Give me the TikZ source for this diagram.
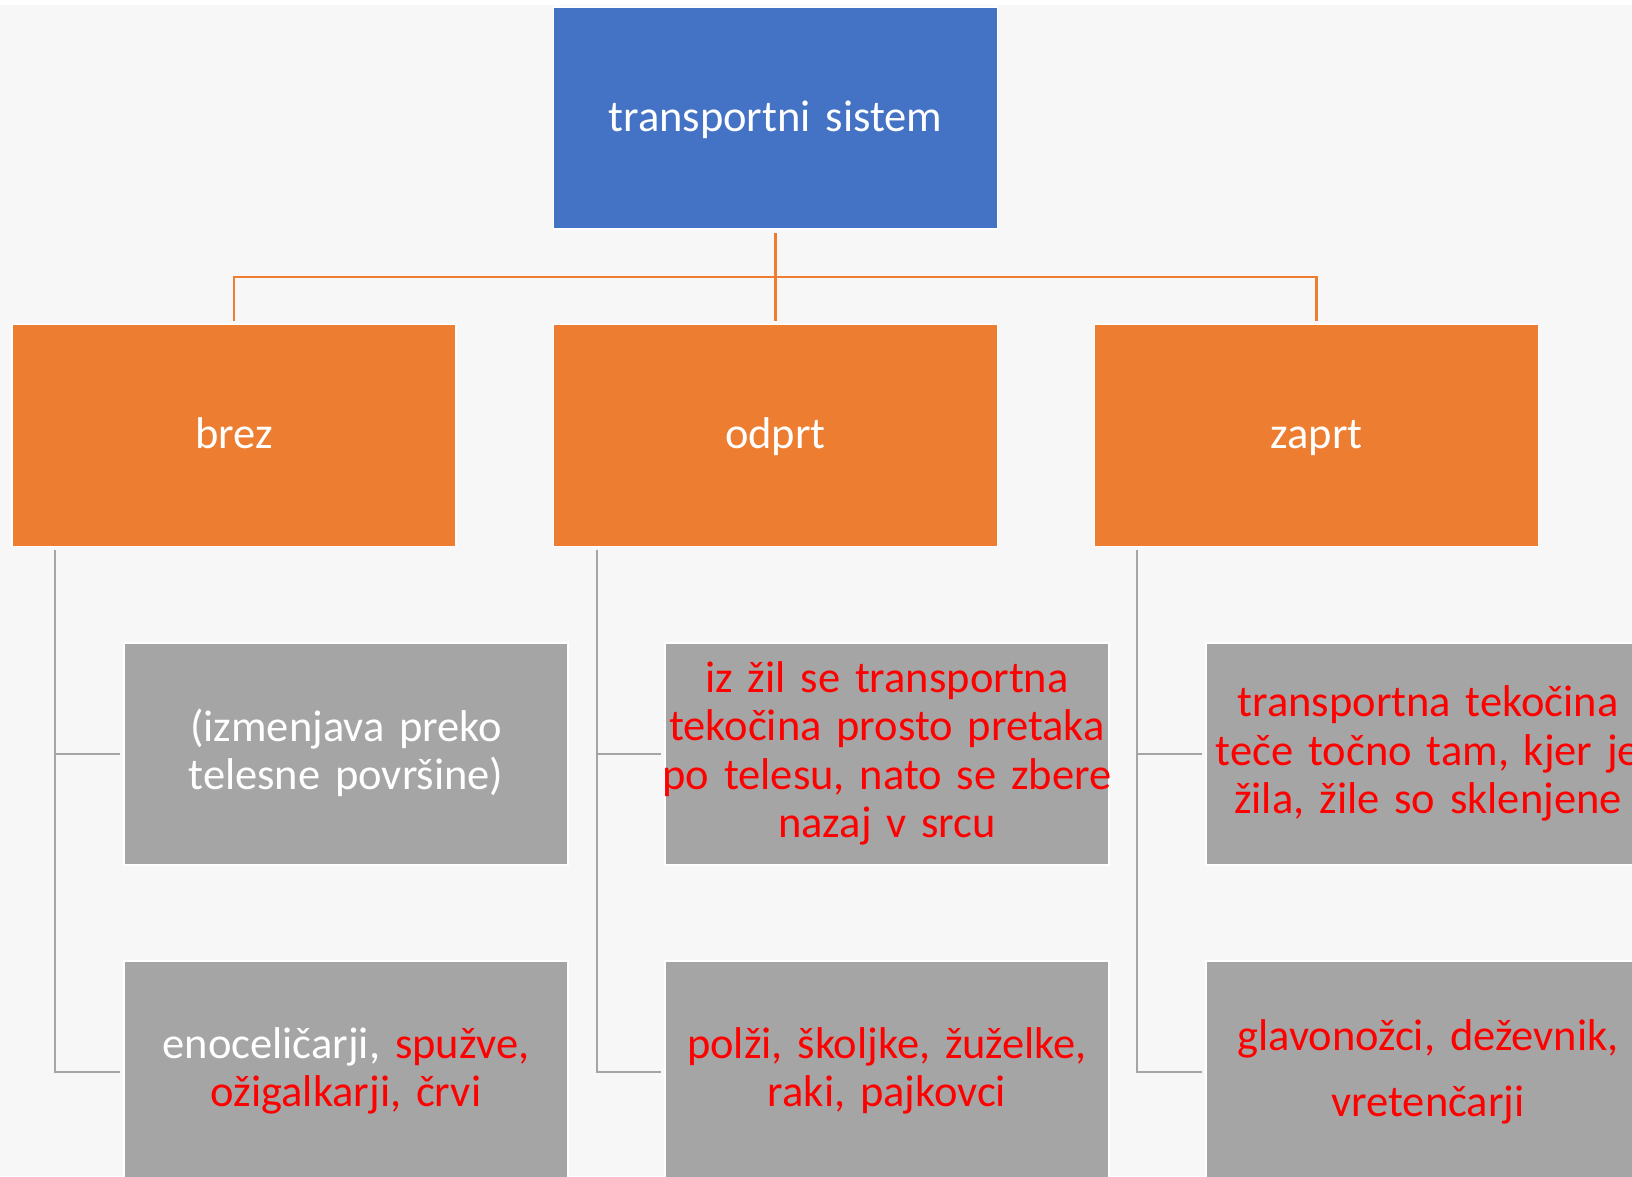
\documentclass[tikz,border=0pt]{standalone}
\usepackage{fontspec}
\setmainfont{Carlito}
\definecolor{bgc}{HTML}{F7F7F7}
\definecolor{blu}{HTML}{4472C4}
\definecolor{org}{HTML}{ED7D31}
\definecolor{gry}{HTML}{A5A5A5}
\definecolor{rd}{HTML}{FF0000}
\tikzset{
  box/.style={rectangle, draw=white, line width=1.5pt, minimum width=444pt, minimum height=222pt, inner sep=0pt},
  topbox/.style={box, fill=blu},
  orgbox/.style={box, fill=org},
  grybox/.style={box, fill=gry},
  txt/.style={font=\fontsize{44.5}{48.5}\selectfont, text width=600pt, align=center, anchor=base, inner sep=0pt, outer sep=0pt},
  oline/.style={draw=org, line width=2.5pt},
  gline/.style={draw=gry, line width=2pt}
}
\begin{document}
\begin{tikzpicture}[x=1pt,y=-1pt]
\useasboundingbox (0,0) rectangle (1632,1176);
\clip (0,0) rectangle (1632,1176);
\fill[white] (0,0) rectangle (1632,1176);
\fill[bgc] (0,5) rectangle (1632,1176);

% boxes
\node[topbox] (top) at (775.5,118) {};
\node[orgbox] (brez) at (234,435.5) {};
\node[orgbox] (odprt) at (775.5,435.5) {};
\node[orgbox] (zaprt) at (1316.5,435.5) {};
\node[grybox] (g11) at (346,754) {};
\node[grybox] (g12) at (887,754) {};
\node[grybox] (g13) at (1428,754) {};
\node[grybox] (g21) at (346,1072) {};
\node[grybox] (g22) at (887,1072) {};
\node[grybox] (g23) at (1428,1072) {};

% orange connectors
\coordinate (bus) at (775.5,277);
\draw[oline] ([yshift=-3pt]top.south) -- (bus);
\draw[oline] ([yshift=3pt]brez.north) |- (bus) -| ([yshift=3pt]zaprt.north);
\draw[oline] (bus) -- ([yshift=3pt]odprt.north);

% gray connectors
\foreach \p/\a/\b/\x in {brez/g11/g21/55, odprt/g12/g22/596.5, zaprt/g13/g23/1137}{
  \coordinate (s\p) at ([yshift=-3pt]\p.south -| \x,0);
  \draw[gline] (s\p) |- ([xshift=-3pt]\b.west);
  \draw[gline] (s\p |- \a.west) -- ([xshift=-3pt]\a.west);
}

% texts
\node[txt, text=white] (ttop) at (775.5,131) {transportni sistem};
\node[txt, text=white] (tbrez) at (234,448) {brez};
\node[txt, text=white] (todprt) at (775.5,448) {odprt};
\node[txt, text=white] (tzaprt) at (1316.5,448) {zaprt};
\node[txt, text=white] (t11) at (346,741) {(izmenjava preko\\telesne površine)};
\node[txt, text=rd] (t12) at (887,692) {iz žil se transportna\\tekočina prosto pretaka\\po telesu, nato se zbere\\nazaj v srcu};
\node[txt, text=rd] (t13) at (1428,716.5) {transportna tekočina\\teče točno tam, kjer je\\žila, žile so sklenjene};
\node[txt, text=white] (t21) at (346,1058) {enoceličarji, \textcolor{rd}{spužve,}\\\textcolor{rd}{ožigalkarji, črvi}};
\node[txt, text=rd] (t22) at (887,1058) {polži, školjke, žuželke,\\raki, pajkovci};
\node[txt, text=rd, font=\fontsize{44.5}{66.7}\selectfont] (t23) at (1428,1050) {glavonožci, deževnik,\\vretenčarji};
\end{tikzpicture}
\end{document}
